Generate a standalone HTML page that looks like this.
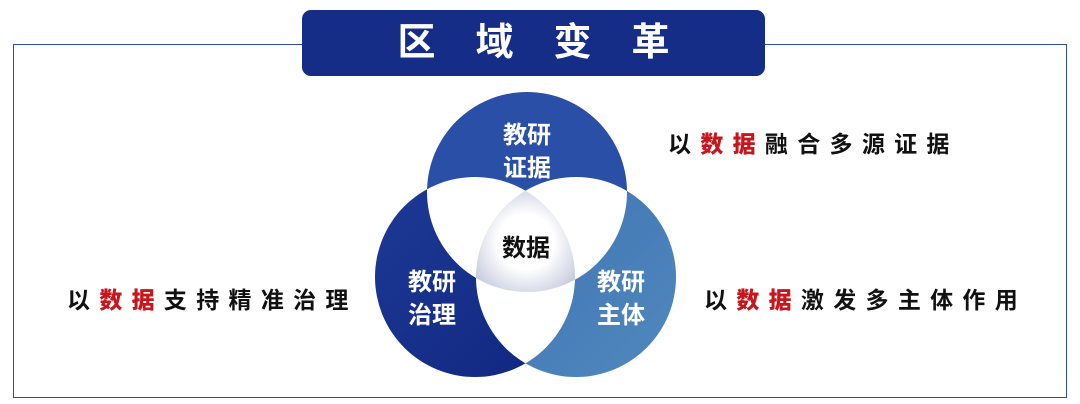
<!DOCTYPE html>
<html><head><meta charset="utf-8"><style>
html,body{margin:0;padding:0;background:#fff;}
body{width:1080px;height:404px;position:relative;overflow:hidden;font-family:"Liberation Sans","Noto Sans CJK SC",sans-serif;}
.frame{position:absolute;left:13px;top:44px;width:1052px;height:352px;border:1.5px solid #2c4ea8;}
.title{position:absolute;left:302px;top:10px;width:463px;height:66px;background:#162d88;border-radius:9px;color:#fff;font-size:38px;font-weight:bold;text-align:center;line-height:66px;letter-spacing:40px;text-indent:40px;}
.lab{position:absolute;font-size:23px;letter-spacing:9.3px;color:#111;white-space:nowrap;line-height:30px;font-weight:bold;}
.lab b{color:#c8161d;}
svg{position:absolute;left:0;top:0;}
</style></head><body>
<div class="frame"></div>
<div class="title">区域变革</div>
<svg width="1080" height="404">
<defs>
<linearGradient id="gl" x1="0" y1="0" x2="1" y2="1"><stop offset="0" stop-color="#1d3a96"/><stop offset="1" stop-color="#10267f"/></linearGradient>
<linearGradient id="gr" x1="0" y1="0" x2="1" y2="1"><stop offset="0" stop-color="#3f72b2"/><stop offset="1" stop-color="#4f88bd"/></linearGradient>
<radialGradient id="gc" gradientUnits="userSpaceOnUse" cx="526" cy="242" r="62"><stop offset="0.45" stop-color="#ffffff"/><stop offset="1" stop-color="#c4c9de"/></radialGradient>
<clipPath id="cT"><circle cx="527" cy="192" r="100"/></clipPath>
<clipPath id="cL"><circle cx="475" cy="277" r="100"/></clipPath>
<clipPath id="cR"><circle cx="576" cy="277" r="100"/></clipPath>
</defs>
<circle cx="527" cy="192" r="100" fill="#2a4fa6"/>
<circle cx="475" cy="277" r="100" fill="url(#gl)"/>
<circle cx="576" cy="277" r="100" fill="url(#gr)"/>
<circle cx="475" cy="277" r="100" fill="#fff" clip-path="url(#cT)"/>
<circle cx="576" cy="277" r="100" fill="#fff" clip-path="url(#cT)"/>
<circle cx="576" cy="277" r="100" fill="#fff" clip-path="url(#cL)"/>
<g clip-path="url(#cT)"><circle cx="576" cy="277" r="100" fill="url(#gc)" clip-path="url(#cL)"/></g>
<g font-family="Liberation Sans, Noto Sans CJK SC, sans-serif" font-size="24" font-weight="bold" fill="#fff" text-anchor="middle">
<text x="527" y="143">教研</text><text x="527" y="176">证据</text>
<text x="432" y="290">教研</text><text x="432" y="323">治理</text>
<text x="621" y="290">教研</text><text x="621" y="323">主体</text>
<text x="526" y="256" fill="#111">数据</text>
</g>
</svg>
<div class="lab" style="left:668px;top:129px;">以<b>数据</b>融合多源证据</div>
<div class="lab" style="left:67px;top:285px;">以<b>数据</b>支持精准治理</div>
<div class="lab" style="left:704px;top:285px;">以<b>数据</b>激发多主体作用</div>
</body></html>
